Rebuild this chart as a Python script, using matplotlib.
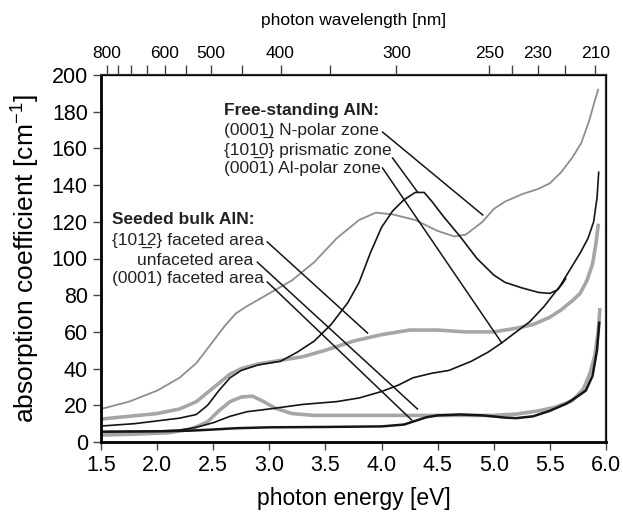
import numpy as np
import matplotlib
matplotlib.use("Agg")
import matplotlib.pyplot as plt

plt.rcParams['font.family'] = ['Liberation Sans', 'DejaVu Sans']
plt.rcParams['mathtext.default'] = 'regular'

# free-standing AlN
npol_e = [1.5, 1.75, 2.0, 2.2, 2.35, 2.5, 2.6, 2.7, 2.8, 3.0, 3.2, 3.4, 3.6, 3.8,
          3.95, 4.1, 4.3, 4.5, 4.65, 4.75, 4.9, 5.0, 5.1, 5.25, 5.4, 5.5, 5.6,
          5.7, 5.78, 5.85, 5.9, 5.93]
npol_a = [18, 22, 28, 35, 43, 55, 63, 70, 74, 81, 88, 98, 111, 121,
          125, 124, 121, 115, 112, 113, 120, 127, 131, 135, 138, 141, 147,
          155, 163, 175, 186, 192]

prism_e = [1.5, 1.8, 2.0, 2.2, 2.35, 2.45, 2.55, 2.65, 2.75, 2.9, 3.1, 3.25, 3.4,
           3.55, 3.7, 3.8, 3.9, 4.0, 4.1, 4.2, 4.3, 4.38, 4.45, 4.55, 4.7, 4.85,
           5.0, 5.1, 5.25, 5.4, 5.5, 5.57, 5.62, 5.64]
prism_a = [8.7, 10, 11.5, 13, 15, 20, 28, 35, 39, 42, 44, 49, 55,
           64, 76, 87, 103, 117, 126, 132, 136, 136, 131, 123, 112, 100,
           91, 87, 84, 81.5, 81, 83, 87, 89]

alpol_e = [1.5, 1.8, 2.0, 2.2, 2.35, 2.5, 2.65, 2.8, 3.0, 3.3, 3.6, 3.8, 4.0,
           4.15, 4.28, 4.45, 4.6, 4.8, 4.95, 5.07, 5.2, 5.32, 5.45, 5.59, 5.7,
           5.77, 5.84, 5.89, 5.92, 5.935]
alpol_a = [5.6, 5.8, 6, 6.5, 8, 10.5, 14, 16.5, 18, 20.5, 22, 24, 27.5,
           31, 35, 37.5, 39, 44, 49, 54, 60, 65.5, 74, 85, 96,
           103, 111, 120, 133, 147]

# seeded bulk AlN
f1012_e = [1.5, 1.75, 2.0, 2.2, 2.35, 2.45, 2.55, 2.65, 2.75, 2.9, 3.1, 3.3, 3.5,
           3.75, 4.0, 4.25, 4.5, 4.75, 5.0, 5.2, 5.35, 5.5, 5.6, 5.7, 5.77,
           5.83, 5.88, 5.91, 5.93]
f1012_a = [12.5, 14, 15.5, 18, 22, 27, 32, 37, 40, 42.5, 44.5, 46.5, 50,
           55, 58.5, 61, 61, 60, 60, 62, 64, 68, 72, 77, 81,
           88, 97, 108, 118]

unfac_e = [1.5, 1.8, 2.1, 2.3, 2.45, 2.55, 2.65, 2.75, 2.85, 2.95, 3.05, 3.2, 3.4,
           3.7, 4.0, 4.5, 5.0, 5.2, 5.4, 5.55, 5.7, 5.8, 5.86, 5.9, 5.93, 5.945]
unfac_a = [3.8, 4.3, 5, 7, 11, 17, 22, 24.5, 25, 22, 18.5, 15.5, 14.5,
           14.5, 14.5, 14.5, 14.5, 15.2, 17, 19, 22.5, 29, 38, 47, 60, 72]

f0001_e = [1.5, 2.0, 2.3, 2.5, 2.7, 3.0, 3.5, 4.0, 4.2, 4.3, 4.4, 4.5, 4.7, 4.9,
           5.1, 5.2, 5.35, 5.5, 5.65, 5.75, 5.82, 5.88, 5.92, 5.94]
f0001_a = [5.6, 5.8, 6.2, 6.8, 7.5, 8, 8.2, 8.5, 9.5, 11.5, 13.5, 14.5, 15, 14.5,
           13.3, 13, 14, 17, 21, 25, 28, 36, 50, 65]

wl_ticks = [800, 750, 700, 650, 600, 550, 500, 450, 400, 350, 300, 250, 240,
            230, 220, 210]
wl_labels = [800, 600, 500, 400, 300, 250, 230, 210]

fig = plt.figure(figsize=(6.23, 5.18), dpi=100)
ax = fig.add_axes([101 / 623, 76 / 518, 505 / 623, 367 / 518])

thin_gray = "#8e8e8e"
thick_gray = "#a6a6a6"
blk = "#151515"

ax.plot(f1012_e, f1012_a, color=thick_gray, lw=2.6)
ax.plot(unfac_e, unfac_a, color=thick_gray, lw=2.6)
ax.plot(npol_e, npol_a, color=thin_gray, lw=1.3)
ax.plot(prism_e, prism_a, color=blk, lw=1.2)
ax.plot(alpol_e, alpol_a, color=blk, lw=1.2)
ax.plot(f0001_e, f0001_a, color=blk, lw=1.8)

ax.set_xlim(1.5, 6.0)
ax.set_ylim(0, 200)
ax.set_xticks(np.arange(1.5, 6.01, 0.5))
ax.set_xticklabels([f"{v:.1f}" for v in np.arange(1.5, 6.01, 0.5)])
ax.set_yticks(np.arange(0, 201, 20))
ax.tick_params(axis="both", direction="out", length=6, width=1, labelsize=15.5,
               color="#444444")
ax.set_xlabel("photon energy [eV]", fontsize=16.5, labelpad=8)
ax.set_ylabel("absorption coefficient [cm$^{-1}$]", fontsize=19, labelpad=7)
for s in ["left", "bottom"]:
    ax.spines[s].set_linewidth(2.0)
for s in ["top", "right"]:
    ax.spines[s].set_linewidth(1.6)
    ax.spines[s].set_color("#333333")

top = ax.twiny()
top.set_xlim(ax.get_xlim())
top.set_xticks([1239.84 / w for w in wl_ticks])
top.set_xticklabels([str(w) if w in wl_labels else "" for w in wl_ticks])
top.tick_params(axis="x", direction="out", length=7, width=1, labelsize=12.5,
                color="#444444", pad=3)
top.set_xlabel("photon wavelength [nm]", fontsize=12.5, labelpad=15)

# annotations
fs = 12.5
ax.text(2.598, 180.5, "Free-standing AlN:", fontsize=fs, fontweight="bold",
        va="center", color="#222222")
ax.text(2.598, 170, "(000\u0031\u0332) N-polar zone", fontsize=fs, va="center",
        color="#222222")
ax.text(2.598, 159, "{10\u0031\u03320} prismatic zone", fontsize=fs, va="center",
        color="#222222")
ax.text(2.598, 148.8, "(0001) Al-polar zone", fontsize=fs, va="center",
        color="#222222")

ax.text(1.60, 121, "Seeded bulk AlN:", fontsize=fs, fontweight="bold",
        va="center", color="#222222")
ax.text(1.60, 110, "{10\u0031\u03322} faceted area", fontsize=fs, va="center",
        color="#222222")
ax.text(2.86, 99, "unfaceted area", fontsize=fs, va="center", ha="right",
        color="#222222")
ax.text(1.60, 89, "(0001) faceted area", fontsize=fs, va="center",
        color="#222222")

leaders = [
    ((4.009, 168.9), (4.902, 123.7)),
    ((4.098, 154.8), (4.321, 136.2)),
    ((4.009, 149.3), (5.071, 54.0)),
    ((2.982, 109.0), (3.875, 59.4)),
    ((2.893, 98.0), (4.320, 18.0)),
    ((2.982, 87.2), (4.268, 12.0)),
]
for (x0, y0), (x1, y1) in leaders:
    ax.plot([x0, x1], [y0, y1], color=blk, lw=1.1)

fig.savefig("out.png", dpi=100)
